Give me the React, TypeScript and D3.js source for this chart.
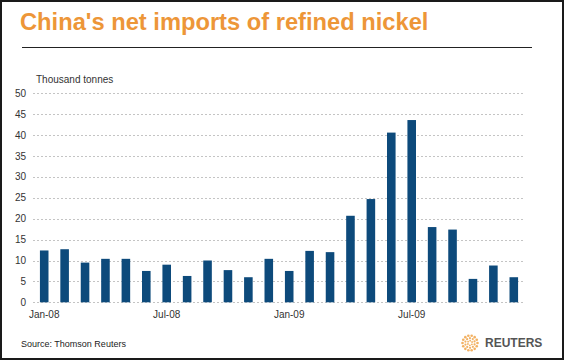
import React from "react";
import * as d3 from "d3";

const months = [
  "Jan-08","Feb-08","Mar-08","Apr-08","May-08","Jun-08","Jul-08","Aug-08","Sep-08","Oct-08","Nov-08","Dec-08",
  "Jan-09","Feb-09","Mar-09","Apr-09","May-09","Jun-09","Jul-09","Aug-09","Sep-09","Oct-09","Nov-09","Dec-09",
];
const netImports = [
  12.4, 12.7, 9.5, 10.4, 10.4, 7.5, 9.0, 6.3, 10.0, 7.7, 6.0, 10.4,
  7.5, 12.3, 12.0, 20.7, 24.7, 40.6, 43.6, 18.0, 17.4, 5.6, 8.8, 6.0,
];
const yTicks = [0, 5, 10, 15, 20, 25, 30, 35, 40, 45, 50];
const xTickLabels = ["Jan-08", "Jul-08", "Jan-09", "Jul-09"];

const W = 564;
const H = 360;
const FONT = "'Liberation Sans', Arial, sans-serif";

export default function App() {
  const x = d3.scaleBand<string>().domain(months).range([34, 524]).paddingInner(0.58).paddingOuter(0.29);
  const y = d3.scaleLinear().domain([0, 50]).range([302.3, 93.3]);

  // Reuters logo dots
  const dots: { cx: number; cy: number; r: number }[] = [];
  const rings = [
    { rad: 7.5, n: 14, r: 1.3 },
    { rad: 4.8, n: 10, r: 1.1 },
    { rad: 2.3, n: 6, r: 0.9 },
  ];
  rings.forEach((ring, k) => {
    for (let i = 0; i < ring.n; i++) {
      const a = (i / ring.n) * Math.PI * 2 + k * 0.3;
      dots.push({ cx: 470 + ring.rad * Math.cos(a), cy: 343 + ring.rad * Math.sin(a), r: ring.r });
    }
  });

  return (
    <svg width={W} height={H} style={{ position: "absolute", left: 0, top: 0, background: "#fff" }} fontFamily={FONT}>
      <rect x={0} y={0} width={W} height={H} fill="#fff" />
      <rect x={1} y={1} width={W - 2} height={H - 2} fill="none" stroke="#1a1a1a" strokeWidth={2} />
      <text x={20} y={30} fontSize={23.7} fontWeight="bold" fill="#ED9638">
        China's net imports of refined nickel
      </text>
      <line x1={22} x2={532} y1={47.5} y2={47.5} stroke="#222" strokeWidth={1} />
      <text x={36} y={82.5} fontSize={10} fill="#333">Thousand tonnes</text>
      {yTicks.map((t) => (
        <g key={t}>
          <line x1={33} x2={524} y1={Math.round(y(t)) + 0.5} y2={Math.round(y(t)) + 0.5} stroke="#c4c4c4" strokeDasharray="2,2" />
          <text x={26} y={y(t) + 3.5} fontSize={10} fill="#333" textAnchor="end">{t}</text>
        </g>
      ))}
      {netImports.map((v, i) => (
        <rect key={months[i]} x={x(months[i])} y={y(v)} width={x.bandwidth()} height={y(0) - y(v)} fill="#0D4A7B" />
      ))}
      {xTickLabels.map((m) => (
        <text key={m} x={(x(m) ?? 0) + x.bandwidth() / 2} y={318} fontSize={10} fill="#333" textAnchor="middle">{m}</text>
      ))}
      <text x={21} y={347} fontSize={9} fill="#222">Source: Thomson Reuters</text>
      {dots.map((d, i) => (
        <circle key={i} cx={d.cx} cy={d.cy} r={d.r} fill="#F0A348" opacity={0.85} />
      ))}
      <text x={485} y={346.5} fontSize={12} fontWeight="bold" fill="#555">REUTERS</text>
    </svg>
  );
}
